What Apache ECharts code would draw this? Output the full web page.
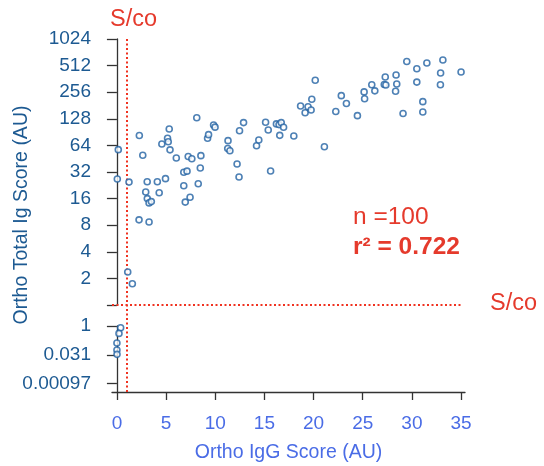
<!DOCTYPE html>
<html><head><meta charset="utf-8">
<script src="https://cdn.jsdelivr.net/npm/echarts@6/dist/echarts.min.js"></script>
<style>html,body{margin:0;padding:0;background:#fff}#c{width:544px;height:466px}</style>
</head><body><div id="c"></div>
<script>
// Ortho IgG Score (AU) vs Ortho Total Ig Score (AU)
const orthoIgG = [
  0.14, 0.04, 1.23, 2.28, 2.63, 3.08, 2.93, 3.09, 3.27, 3.50,
  2.25, 3.27, 4.11, 4.30, 4.57, 4.94, 5.15, 5.32, 5.22, 5.40,
  6.04, 6.80, 7.13, 6.80, 6.95, 7.44, 7.25, 7.62, 8.12, 8.54,
  8.48, 8.27, 9.22, 9.32, 9.83, 9.98, 11.30, 11.27, 11.49, 12.22,
  12.42, 12.47, 12.88, 14.20, 14.43, 15.12, 15.39, 15.63, 16.22, 16.49,
  16.71, 16.95, 16.56, 17.99, 18.68, 19.14, 19.44, 19.75, 19.82, 20.17,
  21.10, 22.26, 22.82, 23.34, 24.46, 25.14, 25.19, 25.92, 26.23, 27.29,
  27.19, 27.35, 28.39, 28.46, 28.34, 29.10, 29.48, 30.50, 30.50, 31.11,
  31.11, 31.52, 32.92, 32.90, 33.15, 35.00, 1.10, 1.57,
  0.38, 0.21, 0.00, 0.00, 0.01
];
const orthoTotalIg = [
  57.3, 26.7, 24.6, 82.8, 49.5, 24.8, 19.0, 16.0, 14.3, 14.8,
  9.2, 8.7, 24.8, 18.6, 66.4, 26.9, 77.2, 98.2, 70.3, 57.0,
  46.1, 31.8, 32.7, 22.4, 14.6, 16.6, 47.9, 45.2, 131.7, 49.0,
  35.5, 23.6, 77.0, 84.7, 109, 103, 72.4, 59.0, 55.7, 39.4,
  28.1, 93.8, 116, 63.5, 73.7, 117, 95.6, 32.9, 112, 110,
  116, 102.6, 83.2, 81.8, 179, 150, 175, 161, 213, 350,
  61.9, 155, 234, 191, 139, 258, 216, 311, 265, 380,
  313, 309, 401, 317, 262, 147, 570, 472, 333, 200,
  153, 548, 422, 311, 592, 434, 2.36, 1.74,
  0.81, 0.41, 0.13, 0.056, 0.033
];
const xTickValues = [0, 5, 10, 15, 20, 25, 30, 35];
const upperTickValues = [1, 2, 4, 8, 16, 32, 64, 128, 256, 512, 1024];
const lowerTickValues = [1, 0.03125, 0.0009765625];
const lowerTickLabels = ['1', '0.031', '0.00097'];
const cutoffX = 1;
const cutoffY = 1;
const nText = 'n =100';
const r2Text = 'r\u00B2 = 0.722';
const cutoffText = 'S/co';

const FONT = 'Liberation Sans, Arial, sans-serif';
const RED = '#e53a2c';
const LINE_RED = '#f03220';
const DARK = '#1d5a92';
const LIGHT = '#4a6ce6';
const AXIS = '#333333';

const upperPts = [], lowerPts = [];
for (let i = 0; i < orthoIgG.length; i++) {
  const p = [orthoIgG[i], orthoTotalIg[i]];
  if (orthoTotalIg[i] >= cutoffY) upperPts.push(p); else lowerPts.push(p);
}

const xMin = -0.5, xMax = 35.4;
const sym = {
  type: 'scatter', symbol: 'circle', symbolSize: 6,
  itemStyle: { color: '#ffffff', borderColor: '#2262a2', borderWidth: 1.6 },
  emphasis: { disabled: true }, silent: true
};

const chart = echarts.init(document.getElementById('c'), null, { renderer: 'canvas' });
chart.setOption({
  animation: false,
  backgroundColor: '#ffffff',
  textStyle: { fontFamily: FONT },
  grid: [
    { left: 112, top: 39, width: 353, height: 266 },
    { left: 112, top: 326, width: 353, height: 66 },
    { left: 112, top: 38, width: 353, height: 354 }
  ],
  xAxis: [
    { gridIndex: 0, type: 'value', min: xMin, max: xMax, show: false },
    { gridIndex: 1, type: 'value', min: xMin, max: xMax,
      axisLine: { show: true, lineStyle: { color: AXIS, width: 1.3 } },
      axisTick: { show: true, length: 8, lineStyle: { color: AXIS, width: 1.3 }, customValues: xTickValues },
      axisLabel: { color: LIGHT, fontSize: 19, fontFamily: FONT, margin: 22, customValues: xTickValues },
      splitLine: { show: false },
      name: 'Ortho IgG Score (AU)', nameLocation: 'middle', nameGap: 51,
      nameTextStyle: { color: LIGHT, fontSize: 19.5, fontFamily: FONT } },
    { gridIndex: 2, type: 'value', min: xMin, max: xMax, show: false }
  ],
  yAxis: [
    { gridIndex: 0, type: 'log', logBase: 2, min: 1, max: 1024,
      axisLine: { show: true, lineStyle: { color: AXIS, width: 1.3 } },
      axisTick: { show: true, length: 10, lineStyle: { color: AXIS, width: 1.3 }, customValues: upperTickValues },
      axisLabel: { color: DARK, fontSize: 19, fontFamily: FONT, margin: 21, customValues: upperTickValues,
        formatter: v => (Math.abs(v - 1) < 1e-9 ? '' : String(Math.round(v))) },
      splitLine: { show: false } },
    { gridIndex: 1, type: 'log', logBase: 2, min: Math.pow(2, -11.46), max: 1,
      axisLine: { show: true, lineStyle: { color: AXIS, width: 1.3 } },
      axisTick: { show: true, length: 10, lineStyle: { color: AXIS, width: 1.3 }, customValues: lowerTickValues },
      axisLabel: { color: DARK, fontSize: 19, fontFamily: FONT, margin: 21, customValues: lowerTickValues,
        formatter: v => { let best = 0; for (let i = 0; i < lowerTickValues.length; i++) { if (Math.abs(Math.log2(v) - Math.log2(lowerTickValues[i])) < Math.abs(Math.log2(v) - Math.log2(lowerTickValues[best]))) best = i; } return lowerTickLabels[best]; } },
      splitLine: { show: false } },
    { gridIndex: 2, type: 'value', min: 0, max: 1,
      axisLine: { show: false }, axisTick: { show: false }, axisLabel: { show: false }, splitLine: { show: false },
      name: 'Ortho Total Ig Score (AU)', nameLocation: 'middle', nameGap: 80, nameRotate: 90,
      nameTextStyle: { color: DARK, fontSize: 19.5, fontFamily: FONT } }
  ],
  series: [
    Object.assign({}, sym, { xAxisIndex: 0, yAxisIndex: 0, data: upperPts, z: 5,
      markLine: { silent: true, symbol: 'none', animation: false,
        lineStyle: { color: LINE_RED, width: 2, type: [2, 2.5] }, label: { show: false },
        data: [[{ coord: [xMin, cutoffY] }, { coord: [35, cutoffY] }]] } }),
    Object.assign({}, sym, { xAxisIndex: 1, yAxisIndex: 1, data: lowerPts, z: 5 }),
    { type: 'scatter', xAxisIndex: 2, yAxisIndex: 2, data: [], silent: true,
      markLine: { silent: true, symbol: 'none', animation: false,
        lineStyle: { color: LINE_RED, width: 2, type: [2, 2.5] }, label: { show: false },
        data: [{ xAxis: cutoffX }] } }
  ],
  graphic: [
    { type: 'text', left: 110, top: 8, style: { text: cutoffText, fill: RED, font: '23.5px ' + FONT } },
    { type: 'text', left: 490, top: 292, style: { text: cutoffText, fill: RED, font: '23.5px ' + FONT } },
    { type: 'text', left: 353, top: 205, style: { text: nText, fill: RED, font: '24.5px ' + FONT } },
    { type: 'text', left: 353, top: 235, style: { text: r2Text, fill: RED, font: 'bold 24.5px ' + FONT } }
  ]
});
</script>
</body></html>
